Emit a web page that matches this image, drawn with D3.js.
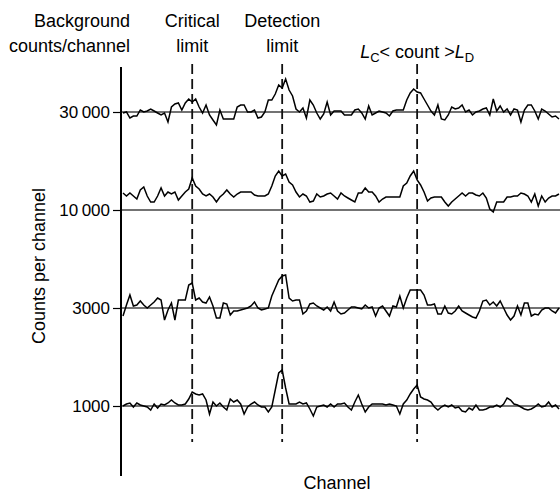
<!DOCTYPE html>
<html>
<head>
<meta charset="utf-8">
<script src="https://cdn.jsdelivr.net/npm/d3@7"></script>
<style>
  body { margin: 0; background: #fff; }
  svg { display: block; font-family: "Liberation Sans", Arial, sans-serif; }
</style>
</head>
<body>
<div id="chart"></div>
<script>
// background level of each trace (counts/channel), top to bottom
var backgrounds = [30000, 10000, 3000, 1000];
var tickLabels = ["30\u2009000", "10\u2009000", "3000", "1000"];

// counts per channel, channels 0..126
var counts30000 = [
  29970,30000,29820,29880,29880,30060,30000,30030,30090,30030,
  29970,29910,29970,29700,30150,30240,30270,30060,30270,30390,
  30300,30390,30150,29970,30210,29910,29760,29610,30060,29790,
  29790,29790,29790,30150,30210,30210,30000,30000,30060,29820,
  29850,30000,30360,30360,30540,30810,30720,30990,30660,30480,
  30090,30000,30120,29820,30360,30210,29970,29790,29940,30300,
  29910,30030,30030,30030,29910,29910,29910,30060,30090,29970,
  29790,30180,29910,29970,30030,30000,29970,29880,30030,30060,
  30060,30060,30360,30570,30690,30600,30570,30390,30210,30030,
  29910,30210,29790,29760,29910,30150,30090,30120,30210,30000,
  30060,29910,30000,30030,30090,30120,29910,30390,30030,30180,
  30000,30090,29910,30090,30060,29700,30060,30210,30210,30030,
  29790,30090,30030,29940,29850,29880,29790
];
var counts10000 = [
  10340,10280,10340,10280,10220,10400,10460,10280,10160,10160,
  10280,10440,10280,10360,10320,10360,10200,10280,10360,10420,
  10640,10480,10420,10320,10280,10320,10260,10160,10260,10320,
  10400,10320,10260,10320,10360,10360,10360,10360,10300,10280,
  10280,10280,10320,10480,10680,10780,10680,10720,10560,10500,
  10360,10260,10320,10280,10160,10180,10320,10260,10280,10320,
  10340,10280,10220,10340,10280,10240,10200,10160,10340,10340,
  10440,10360,10360,10280,10160,10220,10260,10260,10260,10260,
  10260,10480,10540,10680,10780,10600,10500,10360,10180,10240,
  10260,10260,10260,10160,10080,10160,10220,10280,10340,10280,
  10340,10340,10300,10280,10340,10240,10020,9960,10160,10160,
  10160,10260,10260,10280,10280,10340,10320,10280,10160,10320,
  10080,10280,10160,10240,10280,10280,10320
];
var counts3000 = [
  2920,3030,3130,3020,3030,3070,3030,3000,3030,3060,
  3100,3080,2880,2980,3050,2880,3080,3080,3080,3230,
  3250,3080,3100,3060,3050,3110,3020,2900,2900,3050,
  3040,2930,2970,2970,2980,2990,3000,3020,3060,3000,
  2980,2990,3000,3120,3200,3280,3320,3330,3100,3070,
  3080,3080,2940,2970,3040,3050,3020,3000,2980,3010,
  2970,3060,2970,2940,2950,2980,3010,3010,3000,2990,
  3030,3000,3010,2920,3000,3020,2970,2920,3020,3010,
  3120,3000,3100,3180,3180,3180,3180,3130,3030,3030,
  3040,2940,2940,3020,2950,2940,2970,3020,2970,2950,
  2930,2910,2900,2970,3070,3080,3030,3060,3020,3070,
  3000,2930,2880,2920,3020,2930,3050,3050,2920,2940,
  2930,2980,3000,3000,2970,2950,3000
];
var counts1000 = [
  1000,1010,1015,995,1015,1005,1000,995,980,1010,
  990,1010,1005,1015,1030,1015,1005,1005,1010,1035,
  1070,1060,1055,1060,1030,960,1020,1000,1015,995,
  980,1035,1020,1030,1010,960,995,1010,1020,1005,
  995,995,970,995,1080,1165,1180,1090,1010,1010,
  1010,1020,1010,1015,985,950,995,1000,1005,995,
  1010,995,1010,1010,1015,995,980,1020,1055,1010,
  970,995,1010,1010,1010,1010,1005,1010,1005,1000,
  960,1010,1030,1060,1085,1105,1045,1035,1030,1020,
  995,980,995,1005,995,1005,990,995,975,970,
  990,980,1005,980,980,985,995,995,1005,995,
  1010,1040,1030,1010,1005,995,985,980,985,995,
  1010,995,1000,1020,995,1005,985
];
var traces = [counts30000, counts10000, counts3000, counts1000];

// channels of the three marked peaks and their headings
var markerChannels = [20, 46, 85];
var markerLabels = [["Critical", "limit"], ["Detection", "limit"]];

// vertical exaggeration of each row (counts per pixel)
var rowUnits = [30, 20, 10, 5];

var width = 560, height = 492;

var svg = d3.select("#chart").append("svg")
    .attr("width", width)
    .attr("height", height);

var x = d3.scaleLinear().domain([0, 126]).range([123, 559]);
var row = d3.scalePoint().domain(backgrounds).range([112, 406]);
var axisX = 121;

var rowScale = function(b, unit) {
    return d3.scaleLinear()
        .domain([b - 40 * unit, b + 40 * unit])
        .range([row(b) + 40, row(b) - 40]);
};

// background lines
svg.selectAll("line.base")
    .data(backgrounds)
  .enter().append("line")
    .attr("class", "base")
    .attr("x1", axisX)
    .attr("x2", width)
    .attr("y1", function(d) { return row(d); })
    .attr("y2", function(d) { return row(d); })
    .attr("stroke", "#444")
    .attr("stroke-width", 1.3);

// dashed marker lines
svg.selectAll("line.marker")
    .data(markerChannels)
  .enter().append("line")
    .attr("class", "marker")
    .attr("x1", function(d) { return x(d); })
    .attr("x2", function(d) { return x(d); })
    .attr("y1", 64)
    .attr("y2", 442)
    .attr("stroke", "#111")
    .attr("stroke-width", 1.8)
    .attr("stroke-dasharray", "10,5");

// spectra
backgrounds.forEach(function(b, k) {
    var ys = rowScale(b, rowUnits[k]);
    var line = d3.line()
        .x(function(d, i) { return x(i); })
        .y(function(d) { return ys(d); });
    svg.append("path")
        .datum(traces[k])
        .attr("d", line)
        .attr("fill", "none")
        .attr("stroke", "#000")
        .attr("stroke-width", 1.5)
        .attr("stroke-linejoin", "miter");
});

// y axis
var yAxis = d3.axisLeft(row)
    .tickSize(8)
    .tickPadding(3)
    .tickFormat(function(d, i) { return tickLabels[i]; });

var gy = svg.append("g")
    .attr("transform", "translate(" + axisX + ",0)")
    .call(yAxis);
gy.select(".domain").remove();
gy.selectAll(".tick line").attr("stroke", "#000").attr("stroke-width", 1.2);
gy.selectAll(".tick text")
    .attr("font-size", 17)
    .attr("font-family", "'Liberation Sans', Arial, sans-serif")
    .attr("fill", "#000");

svg.append("line")
    .attr("x1", axisX).attr("x2", axisX)
    .attr("y1", 67).attr("y2", 476)
    .attr("stroke", "#000")
    .attr("stroke-width", 2);

// headings
var head = svg.append("g").attr("font-size", 18).attr("fill", "#000");

head.append("text").attr("x", 130).attr("y", 27)
    .attr("text-anchor", "end").text("Background");
head.append("text").attr("x", 130).attr("y", 52)
    .attr("text-anchor", "end").text("counts/channel");

markerLabels.forEach(function(lines, k) {
    lines.forEach(function(t, j) {
        head.append("text")
            .attr("x", x(markerChannels[k]))
            .attr("y", 27 + j * 25)
            .attr("text-anchor", "middle")
            .text(t);
    });
});

var lt = head.append("text")
    .attr("x", x(markerChannels[2]))
    .attr("y", 58)
    .attr("text-anchor", "middle");
lt.append("tspan").attr("font-style", "italic").text("L");
lt.append("tspan").attr("font-size", 13).attr("dy", 4).text("C");
lt.append("tspan").attr("dy", -4).text("< count >");
lt.append("tspan").attr("font-style", "italic").text("L");
lt.append("tspan").attr("font-size", 13).attr("dy", 4).text("D");

// axis titles
svg.append("text")
    .attr("transform", "translate(45,266) rotate(-90)")
    .attr("text-anchor", "middle")
    .attr("font-size", 18)
    .text("Counts per channel");

svg.append("text")
    .attr("x", 337)
    .attr("y", 489)
    .attr("text-anchor", "middle")
    .attr("font-size", 18)
    .text("Channel");
</script>
</body>
</html>
